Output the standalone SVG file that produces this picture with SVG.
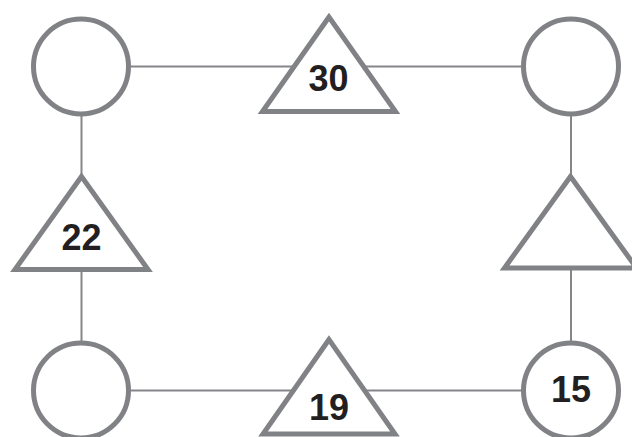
<svg xmlns="http://www.w3.org/2000/svg" width="632" height="437" viewBox="0 0 632 437">
<style>
.edge{stroke:#85868a;stroke-width:2;fill:none}
.shape{fill:#ffffff;stroke:#818285;stroke-width:5;stroke-linejoin:miter;stroke-miterlimit:10}
.lbl{font-family:"Liberation Sans",Arial,sans-serif;font-weight:bold;font-size:36px;fill:#231f20;text-anchor:middle}
</style>
<rect width="632" height="437" fill="#ffffff"/>
<g id="connectors">
<line class="edge" x1="81" y1="66.5" x2="571" y2="66.5"/>
<line class="edge" x1="81" y1="390.5" x2="571" y2="390.5"/>
<line class="edge" x1="81.5" y1="66" x2="81.5" y2="390"/>
<line class="edge" x1="571" y1="66" x2="571" y2="390"/>
</g>
<g id="c-tl"><circle class="shape" cx="81" cy="66.5" r="47.5"/></g>
<g id="c-tr"><circle class="shape" cx="571" cy="66.5" r="47.5"/></g>
<g id="c-bl"><circle class="shape" cx="81" cy="390.5" r="47.5"/></g>
<g id="c-br"><circle class="shape" cx="571" cy="390.5" r="47.5"/><text class="lbl" x="571" y="402">15</text></g>
<g id="t-top"><polygon class="shape" points="329,17 262.5,111.5 395.5,111.5"/><text class="lbl" x="328.5" y="90.5">30</text></g>
<g id="t-left"><polygon class="shape" points="81.5,176.5 15,269.5 148,269.5"/><text class="lbl" x="81.5" y="249.5">22</text></g>
<g id="t-right"><polygon class="shape" points="570.5,176.5 504.5,268 636.5,268"/></g>
<g id="t-bottom"><polygon class="shape" points="329,339.5 263,434 395,434"/><text class="lbl" x="329" y="419.5">19</text></g>
</svg>
